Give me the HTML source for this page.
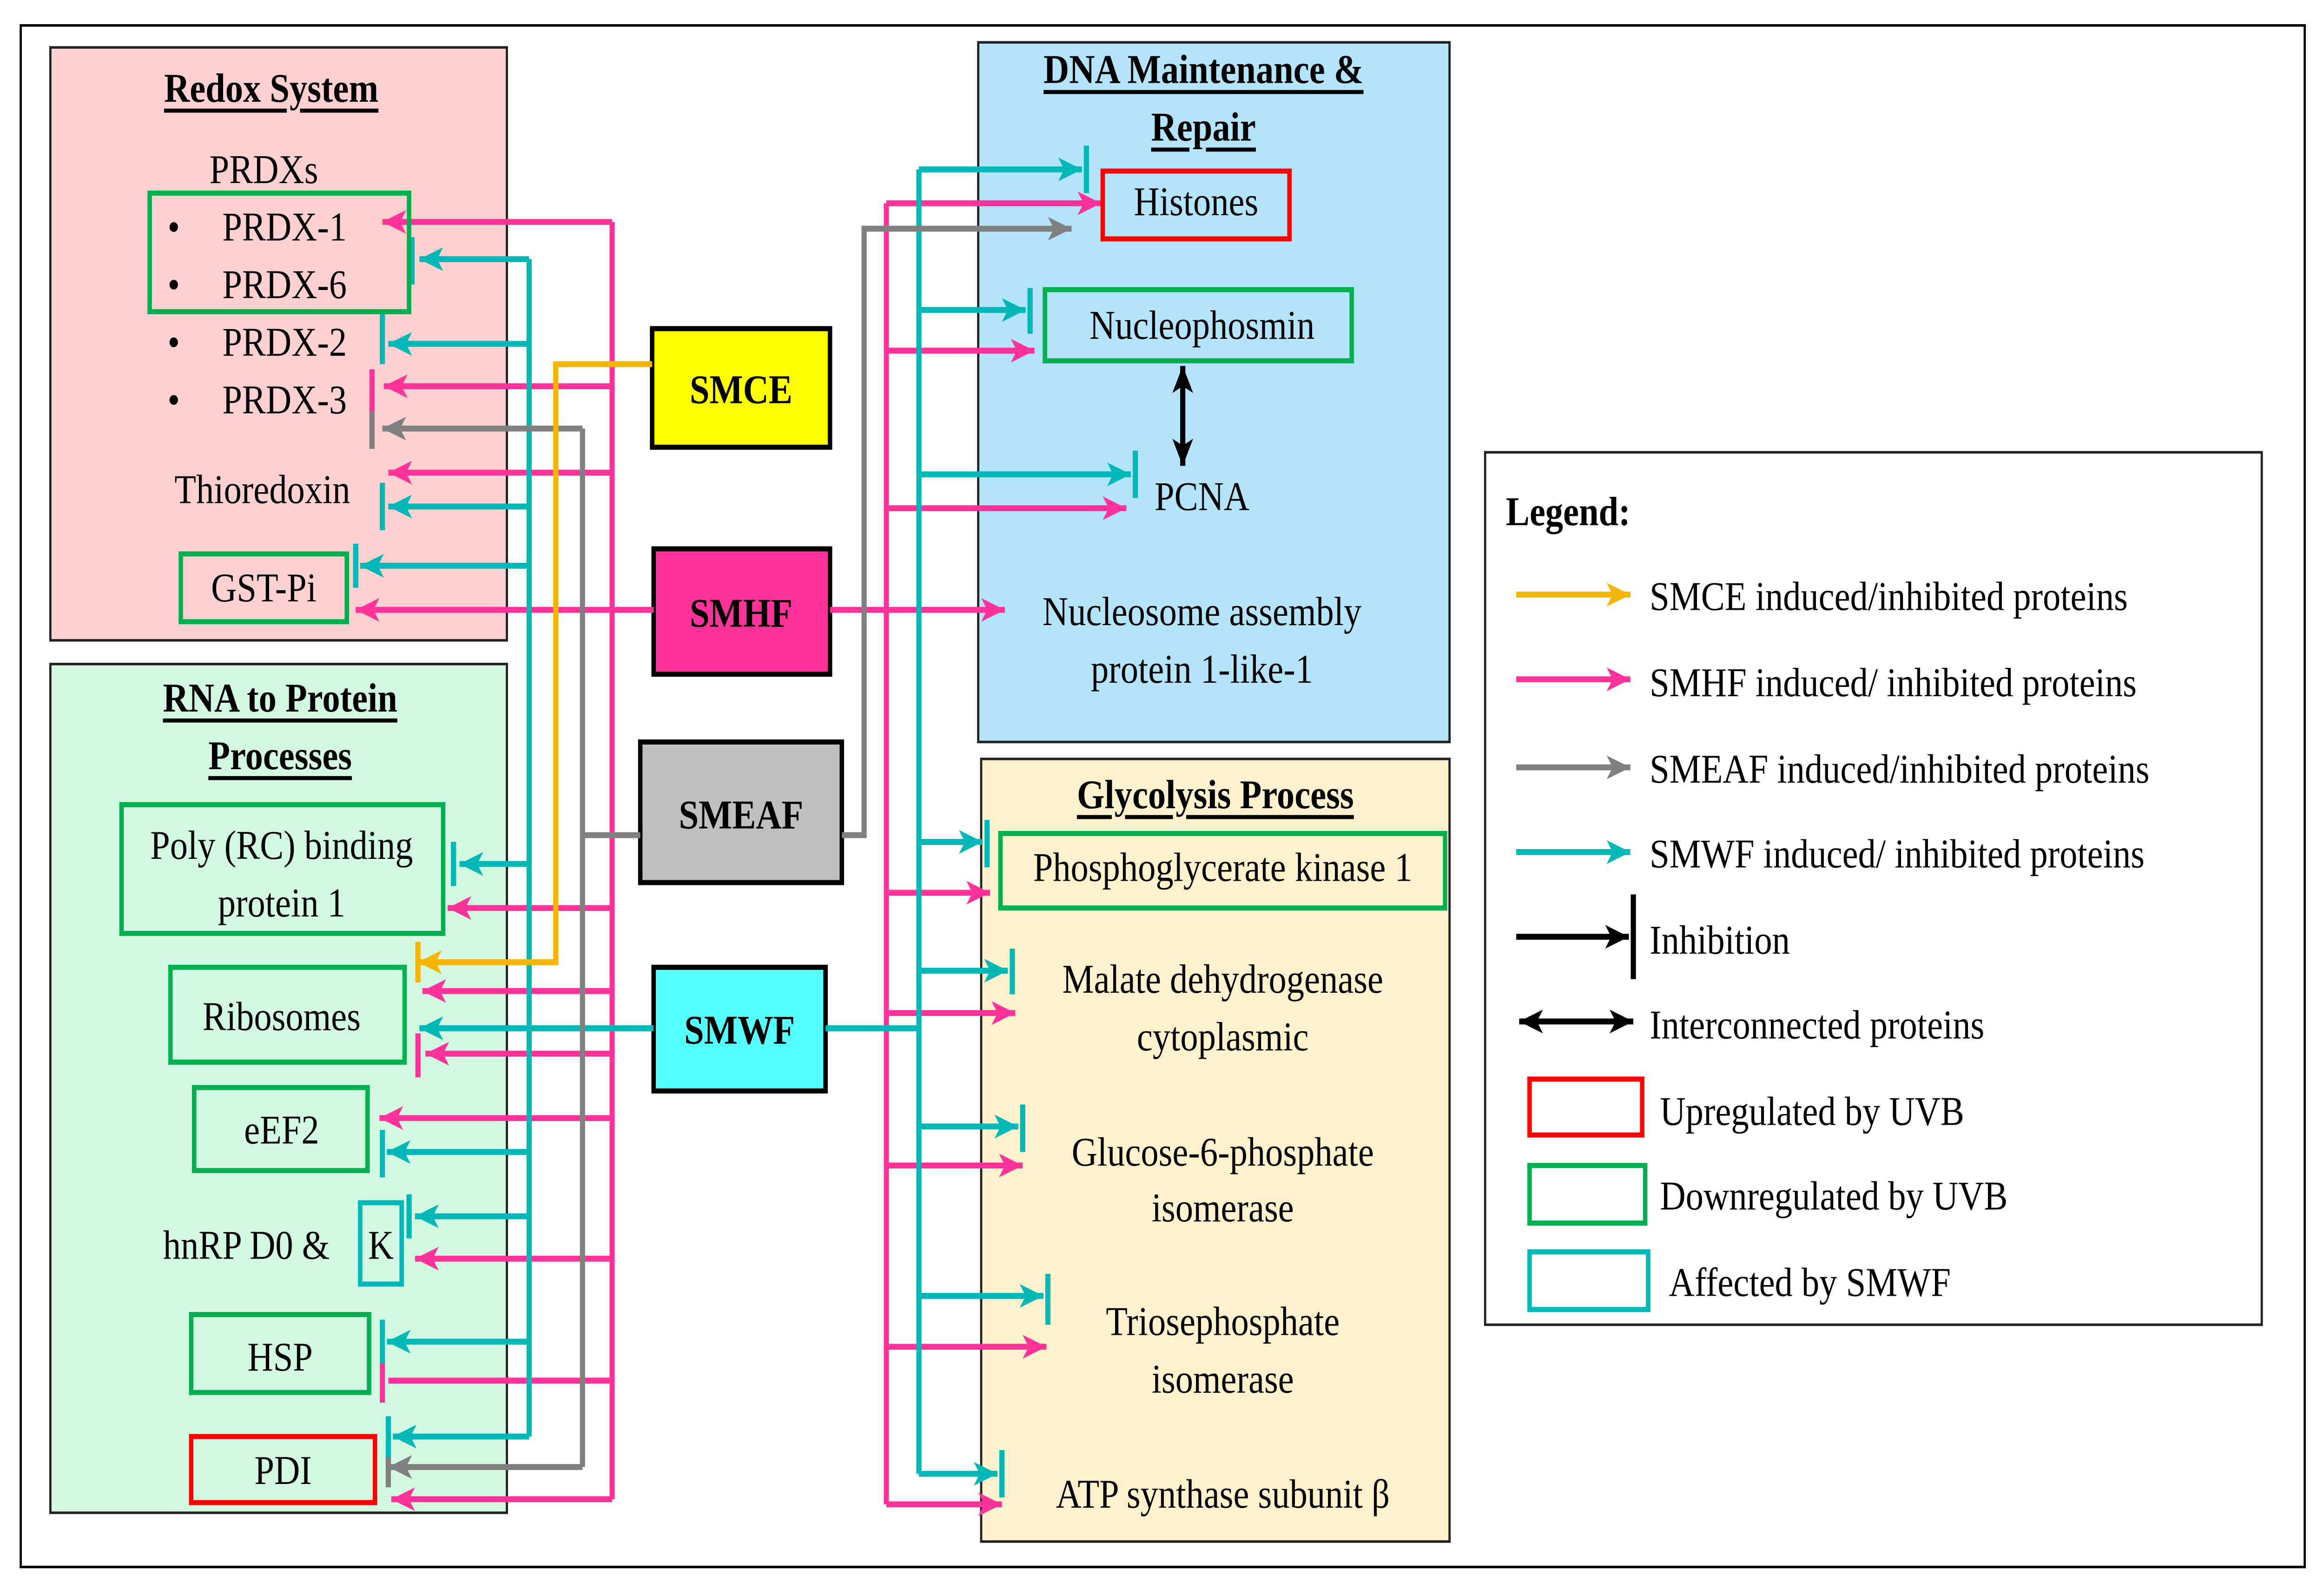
<!DOCTYPE html>
<html><head><meta charset="utf-8"><style>
html,body{margin:0;padding:0;background:#fff;overflow:hidden;width:100%;height:100%;}
svg{display:block;width:100vw;height:100vh;}
text{font-family:"Liberation Serif",serif;font-size:24px;fill:#000;}
.b{font-weight:bold;}
</style></head><body>
<svg viewBox="0 0 1568 938" preserveAspectRatio="none" xmlns="http://www.w3.org/2000/svg">
<defs>
<marker id="mp" markerUnits="userSpaceOnUse" markerWidth="18" markerHeight="14" refX="16" refY="7" orient="auto"><path d="M0,0 L16,7 L0,14 L4,7 Z" fill="#ff3399"/></marker>
<marker id="mt" markerUnits="userSpaceOnUse" markerWidth="18" markerHeight="14" refX="16" refY="7" orient="auto"><path d="M0,0 L16,7 L0,14 L4,7 Z" fill="#00b8b8"/></marker>
<marker id="mg" markerUnits="userSpaceOnUse" markerWidth="18" markerHeight="14" refX="16" refY="7" orient="auto"><path d="M0,0 L16,7 L0,14 L4,7 Z" fill="#808080"/></marker>
<marker id="mo" markerUnits="userSpaceOnUse" markerWidth="18" markerHeight="14" refX="16" refY="7" orient="auto"><path d="M0,0 L16,7 L0,14 L4,7 Z" fill="#f5b400"/></marker>
<marker id="mk" markerUnits="userSpaceOnUse" markerWidth="18" markerHeight="14" refX="16" refY="7" orient="auto"><path d="M0,0 L16,7 L0,14 L4,7 Z" fill="#000"/></marker>
<marker id="mks" markerUnits="userSpaceOnUse" markerWidth="18" markerHeight="14" refX="0" refY="7" orient="auto"><path d="M16,0 L0,7 L16,14 L12,7 Z" fill="#000"/></marker>
</defs>
<rect x="14" y="15" width="1541" height="910" fill="#fff" stroke="#000" stroke-width="1.5"/>
<rect x="34" y="28" width="308" height="350" fill="#ffd0d0" stroke="#222" stroke-width="1.5"/>
<rect x="34" y="392" width="308" height="501" fill="#d2f8e2" stroke="#222" stroke-width="1.5"/>
<rect x="660" y="25" width="318" height="413" fill="#b4e4fb" stroke="#222" stroke-width="1.5"/>
<rect x="662" y="448" width="316" height="462" fill="#fff1cc" stroke="#222" stroke-width="1.5"/>
<rect x="1002" y="267" width="524" height="515" fill="#fff" stroke="#222" stroke-width="1.5"/>

<rect x="440" y="194" width="120" height="70" fill="#ffff00" stroke="#000" stroke-width="3"/>
<text x="500" y="230" text-anchor="middle" dominant-baseline="central" class="b">SMCE</text>
<rect x="441" y="324" width="119" height="74" fill="#ff3399" stroke="#000" stroke-width="3"/>
<text x="500" y="362" text-anchor="middle" dominant-baseline="central" class="b">SMHF</text>
<rect x="432" y="438" width="136" height="83" fill="#c0c0c0" stroke="#000" stroke-width="3"/>
<text x="500" y="481" text-anchor="middle" dominant-baseline="central" class="b">SMEAF</text>
<rect x="441" y="571" width="116" height="73" fill="#55ffff" stroke="#000" stroke-width="3"/>
<text x="499" y="608" text-anchor="middle" dominant-baseline="central" class="b">SMWF</text>

<g fill="none" stroke-width="3.5">
<g stroke="#ff3399">
<polyline points="413,131 413,885"/>
<line x1="413" y1="131" x2="258" y2="131" marker-end="url(#mp)"/>
<line x1="413" y1="228" x2="259" y2="228" marker-end="url(#mp)"/>
<line x1="251" y1="218" x2="251" y2="243"/>
<line x1="413" y1="279" x2="262" y2="279" marker-end="url(#mp)"/>
<line x1="441" y1="360" x2="240" y2="360" marker-end="url(#mp)"/>
<line x1="413" y1="536" x2="302" y2="536" marker-end="url(#mp)"/>
<line x1="413" y1="585" x2="285" y2="585" marker-end="url(#mp)"/>
<line x1="413" y1="622" x2="287" y2="622" marker-end="url(#mp)"/>
<line x1="282" y1="610" x2="282" y2="636"/>
<line x1="413" y1="660" x2="256" y2="660" marker-end="url(#mp)"/>
<line x1="413" y1="743" x2="280" y2="743" marker-end="url(#mp)"/>
<line x1="413" y1="815" x2="262" y2="815"/>
<line x1="258" y1="803" x2="258" y2="828"/>
<line x1="413" y1="885" x2="264" y2="885" marker-end="url(#mp)"/>
</g>
<g stroke="#00b8b8">
<polyline points="357,153 357,848"/>
<line x1="357" y1="153" x2="283" y2="153" marker-end="url(#mt)"/>
<line x1="278" y1="140" x2="278" y2="168"/>
<line x1="357" y1="203" x2="262" y2="203" marker-end="url(#mt)"/>
<line x1="258" y1="185" x2="258" y2="215"/>
<line x1="357" y1="299" x2="262" y2="299" marker-end="url(#mt)"/>
<line x1="258" y1="285" x2="258" y2="313"/>
<line x1="357" y1="334" x2="243" y2="334" marker-end="url(#mt)"/>
<line x1="240" y1="321" x2="240" y2="347"/>
<line x1="357" y1="510" x2="310" y2="510" marker-end="url(#mt)"/>
<line x1="306" y1="497" x2="306" y2="523"/>
<line x1="441" y1="607" x2="283" y2="607" marker-end="url(#mt)"/>
<line x1="357" y1="680" x2="261" y2="680" marker-end="url(#mt)"/>
<line x1="258" y1="667" x2="258" y2="695"/>
<line x1="357" y1="718" x2="280" y2="718" marker-end="url(#mt)"/>
<line x1="276" y1="705" x2="276" y2="731"/>
<line x1="357" y1="792" x2="261" y2="792" marker-end="url(#mt)"/>
<line x1="258" y1="779" x2="258" y2="805"/>
<line x1="357" y1="848" x2="265" y2="848" marker-end="url(#mt)"/>
<line x1="262" y1="836" x2="262" y2="862"/>
</g>
<g stroke="#808080">
<polyline points="432,493 393,493"/>
<polyline points="393,253 393,866"/>
<line x1="393" y1="253" x2="258" y2="253" marker-end="url(#mg)"/>
<line x1="251" y1="243" x2="251" y2="265"/>
<line x1="393" y1="866" x2="262" y2="866" marker-end="url(#mg)"/>
<line x1="262" y1="860" x2="262" y2="878"/>
</g>
<g stroke="#f5b400">
<polyline points="440,215 375,215 375,568 282,568" marker-end="url(#mo)"/>
<line x1="282" y1="556" x2="282" y2="580"/>
</g>
<g stroke="#ff3399">
<line x1="560" y1="360" x2="678" y2="360" marker-end="url(#mp)"/>
<polyline points="598,120 598,888"/>
<line x1="598" y1="120" x2="743" y2="120" marker-end="url(#mp)"/>
<line x1="598" y1="207" x2="698" y2="207" marker-end="url(#mp)"/>
<line x1="598" y1="300" x2="760" y2="300" marker-end="url(#mp)"/>
<line x1="598" y1="527" x2="668" y2="527" marker-end="url(#mp)"/>
<line x1="598" y1="598" x2="685" y2="598" marker-end="url(#mp)"/>
<line x1="598" y1="688" x2="690" y2="688" marker-end="url(#mp)"/>
<line x1="598" y1="795" x2="706" y2="795" marker-end="url(#mp)"/>
<line x1="598" y1="888" x2="676" y2="888" marker-end="url(#mp)"/>
</g>
<g stroke="#00b8b8">
<line x1="557" y1="607" x2="620" y2="607"/>
<polyline points="620,100 620,870"/>
<line x1="620" y1="100" x2="730" y2="100" marker-end="url(#mt)"/>
<line x1="733" y1="86" x2="733" y2="114"/>
<line x1="620" y1="183" x2="692" y2="183" marker-end="url(#mt)"/>
<line x1="695" y1="170" x2="695" y2="197"/>
<line x1="620" y1="280" x2="763" y2="280" marker-end="url(#mt)"/>
<line x1="766" y1="266" x2="766" y2="294"/>
<line x1="620" y1="497" x2="663" y2="497" marker-end="url(#mt)"/>
<line x1="666" y1="484" x2="666" y2="512"/>
<line x1="620" y1="573" x2="680" y2="573" marker-end="url(#mt)"/>
<line x1="683" y1="560" x2="683" y2="587"/>
<line x1="620" y1="665" x2="687" y2="665" marker-end="url(#mt)"/>
<line x1="690" y1="652" x2="690" y2="680"/>
<line x1="620" y1="765" x2="704" y2="765" marker-end="url(#mt)"/>
<line x1="707" y1="752" x2="707" y2="782"/>
<line x1="620" y1="870" x2="673" y2="870" marker-end="url(#mt)"/>
<line x1="676" y1="856" x2="676" y2="884"/>
</g>
<polyline stroke="#808080" points="568,493 583,493 583,135 723,135" marker-end="url(#mg)"/>
<line stroke="#000" x1="798" y1="216" x2="798" y2="275" marker-start="url(#mks)" marker-end="url(#mk)"/>
</g>

<g fill="none" stroke-width="3">
<rect x="101" y="114" width="175" height="70" stroke="#00b050"/>
<rect x="122" y="327" width="112" height="40" stroke="#00b050"/>
<rect x="82" y="475" width="217" height="76" stroke="#00b050"/>
<rect x="115" y="571" width="158" height="56" stroke="#00b050"/>
<rect x="131" y="642" width="117" height="49" stroke="#00b050"/>
<rect x="243" y="710" width="28" height="48" stroke="#00b8b8"/>
<rect x="129" y="776" width="120" height="46" stroke="#00b050"/>
<rect x="129" y="848" width="124" height="39" stroke="#ff0000"/>
<rect x="744" y="101" width="126" height="40" stroke="#ff0000"/>
<rect x="705" y="171" width="207" height="42" stroke="#00b050"/>
<rect x="675" y="492" width="300" height="44" stroke="#00b050"/>
</g>

<g dominant-baseline="central">
<text x="183" y="52" text-anchor="middle" class="b" text-decoration="underline">Redox System</text>
<text x="178" y="100" text-anchor="middle">PRDXs</text>
<text x="113" y="134">•</text><text x="150" y="134">PRDX-1</text>
<text x="113" y="168">•</text><text x="150" y="168">PRDX-6</text>
<text x="113" y="202">•</text><text x="150" y="202">PRDX-2</text>
<text x="113" y="236">•</text><text x="150" y="236">PRDX-3</text>
<text x="177" y="289" text-anchor="middle">Thioredoxin</text>
<text x="178" y="347" text-anchor="middle">GST-Pi</text>
<text x="189" y="412" text-anchor="middle" class="b" text-decoration="underline">RNA to Protein</text>
<text x="189" y="446" text-anchor="middle" class="b" text-decoration="underline">Processes</text>
<text x="190" y="499" text-anchor="middle">Poly (RC) binding</text>
<text x="190" y="533" text-anchor="middle">protein 1</text>
<text x="190" y="600" text-anchor="middle">Ribosomes</text>
<text x="190" y="667" text-anchor="middle">eEF2</text>
<text x="110" y="735">hnRP D0 &amp;</text>
<text x="257" y="735" text-anchor="middle">K</text>
<text x="189" y="801" text-anchor="middle">HSP</text>
<text x="191" y="868" text-anchor="middle">PDI</text>

<text x="812" y="41" text-anchor="middle" class="b" text-decoration="underline">DNA Maintenance &amp;</text>
<text x="812" y="75" text-anchor="middle" class="b" text-decoration="underline">Repair</text>
<text x="807" y="119" text-anchor="middle">Histones</text>
<text x="811" y="192" text-anchor="middle">Nucleophosmin</text>
<text x="811" y="293" text-anchor="middle">PCNA</text>
<text x="811" y="361" text-anchor="middle">Nucleosome assembly</text>
<text x="811" y="395" text-anchor="middle">protein 1-like-1</text>

<text x="820" y="469" text-anchor="middle" class="b" text-decoration="underline">Glycolysis Process</text>
<text x="825" y="512" text-anchor="middle">Phosphoglycerate kinase 1</text>
<text x="825" y="578" text-anchor="middle">Malate dehydrogenase</text>
<text x="825" y="612" text-anchor="middle">cytoplasmic</text>
<text x="825" y="680" text-anchor="middle">Glucose-6-phosphate</text>
<text x="825" y="713" text-anchor="middle">isomerase</text>
<text x="825" y="780" text-anchor="middle">Triosephosphate</text>
<text x="825" y="814" text-anchor="middle">isomerase</text>
<text x="825" y="882" text-anchor="middle">ATP synthase subunit β</text>

<text x="1016" y="302" class="b">Legend:</text>
<text x="1113" y="352">SMCE induced/inhibited proteins</text>
<text x="1113" y="403">SMHF induced/ inhibited proteins</text>
<text x="1113" y="454">SMEAF induced/inhibited proteins</text>
<text x="1113" y="504">SMWF induced/ inhibited proteins</text>
<text x="1113" y="555">Inhibition</text>
<text x="1113" y="605">Interconnected proteins</text>
<text x="1120" y="656">Upregulated by UVB</text>
<text x="1120" y="706">Downregulated by UVB</text>
<text x="1126" y="757">Affected by SMWF</text>
</g>

<g fill="none" stroke-width="3.5">
<line x1="1023" y1="351" x2="1100" y2="351" stroke="#f5b400" marker-end="url(#mo)"/>
<line x1="1023" y1="401" x2="1100" y2="401" stroke="#ff3399" marker-end="url(#mp)"/>
<line x1="1023" y1="453" x2="1100" y2="453" stroke="#808080" marker-end="url(#mg)"/>
<line x1="1023" y1="503" x2="1100" y2="503" stroke="#00b8b8" marker-end="url(#mt)"/>
<line x1="1023" y1="553" x2="1099" y2="553" stroke="#000" marker-end="url(#mk)"/>
<line x1="1102" y1="528" x2="1102" y2="578" stroke="#000"/>
<line x1="1025" y1="603" x2="1102" y2="603" stroke="#000" marker-start="url(#mks)" marker-end="url(#mk)"/>
<rect x="1032" y="637" width="76" height="33" stroke="#ff0000" stroke-width="3"/>
<rect x="1032" y="688" width="78" height="34" stroke="#00b050" stroke-width="3"/>
<rect x="1032" y="739" width="80" height="34" stroke="#00b8b8" stroke-width="3"/>
</g>
</svg>
</body></html>
